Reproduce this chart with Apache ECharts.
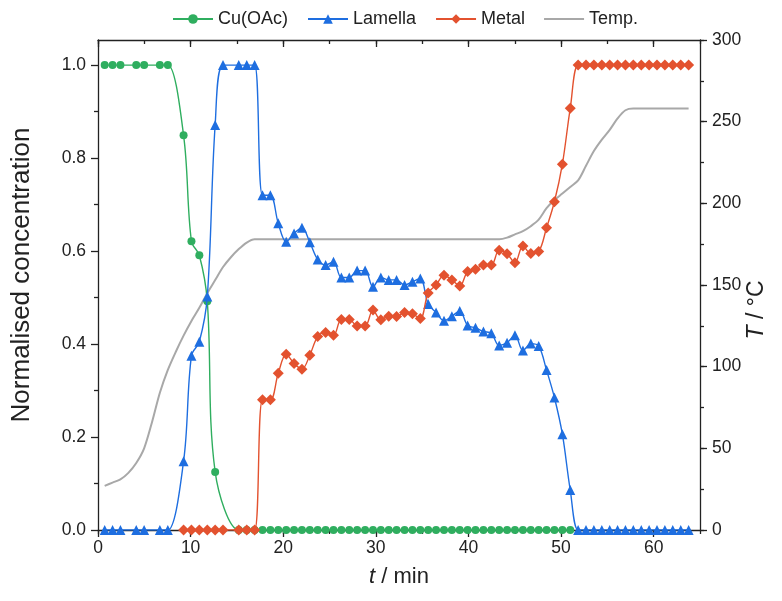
<!DOCTYPE html>
<html>
<head>
<meta charset="utf-8">
<script src="https://cdn.jsdelivr.net/npm/echarts@6/dist/echarts.min.js"></script>
<style>html,body{margin:0;padding:0;background:#fff}#c{width:782px;height:601px}</style>
</head>
<body>
<div id="c"></div>
<script>
// time stamps (min) of each frame
var times = [0.72,1.57,2.42,3.28,4.13,4.98,5.83,6.68,7.54,8.39,
  9.24,10.09,10.94,11.80,12.65,13.50,14.35,15.20,16.06,16.91,
  17.76,18.61,19.46,20.32,21.17,22.02,22.87,23.72,24.58,25.43,
  26.28,27.13,27.98,28.84,29.69,30.54,31.39,32.24,33.10,33.95,
  34.80,35.65,36.50,37.36,38.21,39.06,39.91,40.76,41.62,42.47,
  43.32,44.17,45.02,45.88,46.73,47.58,48.43,49.28,50.14,50.99,
  51.84,52.69,53.54,54.40,55.25,56.10,56.95,57.80,58.66,59.51,
  60.36,61.21,62.06,62.92,63.77];

var cuOAc = [1,1,1,null,1,1,null,1,1,null,
  0.849,0.621,0.591,0.492,0.125,null,null,0,0,0,
  0,0,0,0,0,0,0,0,0,0,
  0,0,0,0,0,0,0,0,0,0,
  0,0,0,0,0,0,0,0,0,0,
  0,0,0,0,0,0,0,0,0,0,
  null,null,null,null,null,null,null,null,null,null,
  null,null,null,null,null];

var lamella = [0,0,0,null,0,0,null,0,0,null,
  0.148,0.375,0.405,0.502,0.871,1.0,null,1.0,1.0,1.0,
  0.72,0.72,0.66,0.62,0.638,0.65,0.619,0.582,0.570,0.577,
  0.543,0.543,0.558,0.558,0.523,0.543,0.538,0.538,0.527,0.534,
  0.541,0.486,0.468,0.45,0.46,0.471,0.44,0.435,0.427,0.423,
  0.397,0.403,0.419,0.386,0.401,0.396,0.344,0.285,0.206,0.086,
  0,0,0,0,0,0,0,0,0,0,
  0,0,0,0,0];

var metal = [null,null,null,null,null,null,null,null,null,null,
  0,0,0,0,0,0,null,0,0,0,
  0.28,0.28,0.337,0.378,0.358,0.346,0.376,0.416,0.425,0.419,
  0.453,0.453,0.439,0.439,0.473,0.452,0.46,0.459,0.468,0.465,
  0.455,0.51,0.527,0.548,0.538,0.525,0.556,0.561,0.570,0.570,
  0.602,0.594,0.575,0.611,0.595,0.599,0.650,0.706,0.787,0.907,
  1,1,1,1,1,1,1,1,1,1,
  1,1,1,1,1];

var temp = [27,29,31,35,41,50,66,84,98,109,
  119,128,136,145,153,161,167,172,176,178,
  178,178,178,178,178,178,178,178,178,178,
  178,178,178,178,178,178,178,178,178,178,
  178,178,178,178,178,178,178,178,178,178,
  178,179,181,183,186,190,197,202,206,210,
  214,223,232,239,245,252,257,258,258,258,
  258,258,258,258,258];

var leftTicks = [0, 0.2, 0.4, 0.6, 0.8, 1.0];
var leftMinor = [0.1, 0.3, 0.5, 0.7, 0.9];
var rightTicks = [0, 50, 100, 150, 200, 250, 300];
var xTicks = [0, 10, 20, 30, 40, 50, 60];

function pairs(vals) {
  var out = [];
  for (var i = 0; i < times.length; i++) { if (vals[i] !== null) out.push([times[i], vals[i]]); }
  return out;
}

var FONT = 'Liberation Sans, Arial, sans-serif';
var INK = '#222';
var C_GREEN = '#2fae5f', C_BLUE = '#1e6ee0', C_RED = '#e3522f', C_GRAY = '#a8a8a8';
var LINE = { show: true, onZero: false, lineStyle: { color: INK, width: 1.3 } };
var NOLINE = { show: false, onZero: false };
var NOLABEL = { show: false };
var NOSPLIT = { show: false };
function ticks(len, inside, custom) {
  var t = { show: true, inside: !!inside, length: len, lineStyle: { color: INK, width: 1.3 } };
  if (custom) t.customValues = custom;
  return t;
}
var italicRich = function (size) { return { i: { fontStyle: 'italic', fontSize: size, fontFamily: FONT, fill: INK, color: INK } }; };

var chart = echarts.init(document.getElementById('c'), null, { renderer: 'canvas' });
chart.setOption({
  animation: false,
  backgroundColor: '#fff',
  textStyle: { fontFamily: FONT },
  legend: {
    top: 5, left: 167,
    itemWidth: 40, itemHeight: 12, itemGap: 19,
    textStyle: { fontSize: 18, color: INK, fontFamily: FONT },
    data: ['Cu(OAc)', 'Lamella', 'Metal',
      { name: 'Temp.', icon: 'path://M0,0 L40,0 L40,2.2 L0,2.2 Z' }]
  },
  graphic: [{
    type: 'text', x: 22, y: 275, rotation: Math.PI / 2,
    style: { text: 'Normalised concentration', font: '26px ' + FONT, fill: INK, textAlign: 'center', textVerticalAlign: 'middle' }
  }, {
    type: 'text', x: 757, y: 310, rotation: Math.PI / 2,
    style: { text: '{i|T} / °C', font: '23px ' + FONT, fontSize: 23, fontFamily: FONT, fill: INK, textAlign: 'center', textVerticalAlign: 'middle', rich: italicRich(23) }
  }],
  grid: { left: 98, right: 82, top: 40, bottom: 71 },
  xAxis: [{
    type: 'value', min: 0, max: 65, interval: 10, position: 'bottom', alignTicks: false,
    name: '{i|t} / min', nameLocation: 'middle', nameGap: 36,
    nameTextStyle: { fontSize: 22, color: INK, fontFamily: FONT, rich: italicRich(22) },
    axisLine: LINE, axisTick: ticks(7, false, xTicks),
    axisLabel: { fontSize: 17.5, color: INK, margin: 9, customValues: xTicks, formatter: function (v) { return xTicks.indexOf(v) >= 0 ? String(v) : ''; } },
    splitLine: NOSPLIT
  }, {
    type: 'value', min: 0, max: 65, interval: 5, position: 'bottom', alignTicks: false,
    axisLine: NOLINE, axisTick: ticks(4), axisLabel: NOLABEL, splitLine: NOSPLIT
  }, {
    type: 'value', min: 0, max: 65, interval: 10, position: 'top', alignTicks: false,
    axisLine: LINE, axisTick: ticks(7, true, xTicks), axisLabel: NOLABEL, splitLine: NOSPLIT
  }, {
    type: 'value', min: 0, max: 65, interval: 5, position: 'top', alignTicks: false,
    axisLine: NOLINE, axisTick: ticks(4, true), axisLabel: NOLABEL, splitLine: NOSPLIT
  }],
  yAxis: [{
    type: 'value', min: 0, max: 1.054, interval: 0.2, position: 'left', alignTicks: false,
    axisLine: LINE, axisTick: ticks(7, false, leftTicks),
    axisLabel: { fontSize: 17.5, color: INK, margin: 12, customValues: leftTicks, formatter: function (v) {
      for (var k = 0; k < leftTicks.length; k++) { if (Math.abs(leftTicks[k] - v) < 1e-6) return leftTicks[k].toFixed(1); }
      return ''; } },
    splitLine: NOSPLIT
  }, {
    type: 'value', min: 0, max: 1.054, interval: 0.1, position: 'left', alignTicks: false,
    axisLine: NOLINE, axisTick: ticks(4, false, leftMinor), axisLabel: NOLABEL, splitLine: NOSPLIT
  }, {
    type: 'value', min: 0, max: 300, interval: 50, position: 'right', alignTicks: false,
    axisLine: LINE, axisTick: ticks(7),
    axisLabel: { fontSize: 17.5, color: INK, margin: 12, formatter: function (v) { return rightTicks.indexOf(v) >= 0 ? String(v) : ''; } },
    splitLine: NOSPLIT
  }, {
    type: 'value', min: 0, max: 300, interval: 25, position: 'right', alignTicks: false,
    axisLine: NOLINE, axisTick: ticks(4), axisLabel: NOLABEL, splitLine: NOSPLIT
  }],
  series: [{
    name: 'Cu(OAc)', type: 'line', data: pairs(cuOAc), smooth: 0.35, connectNulls: true,
    symbol: 'circle', symbolSize: 8, z: 3,
    itemStyle: { color: C_GREEN }, lineStyle: { color: C_GREEN, width: 1.4 }
  }, {
    name: 'Lamella', type: 'line', data: pairs(lamella), smooth: 0.35, connectNulls: true,
    symbol: 'triangle', symbolSize: 10, z: 4,
    itemStyle: { color: C_BLUE }, lineStyle: { color: C_BLUE, width: 1.4 }
  }, {
    name: 'Metal', type: 'line', data: pairs(metal), smooth: 0.35, connectNulls: true,
    symbol: 'diamond', symbolSize: 11, z: 5,
    itemStyle: { color: C_RED }, lineStyle: { color: C_RED, width: 1.4 }
  }, {
    name: 'Temp.', type: 'line', yAxisIndex: 2, data: pairs(temp), smooth: 0.3,
    symbol: 'none', showSymbol: false, z: 2,
    itemStyle: { color: C_GRAY }, lineStyle: { color: C_GRAY, width: 2 }
  }]
});
</script>
</body>
</html>
